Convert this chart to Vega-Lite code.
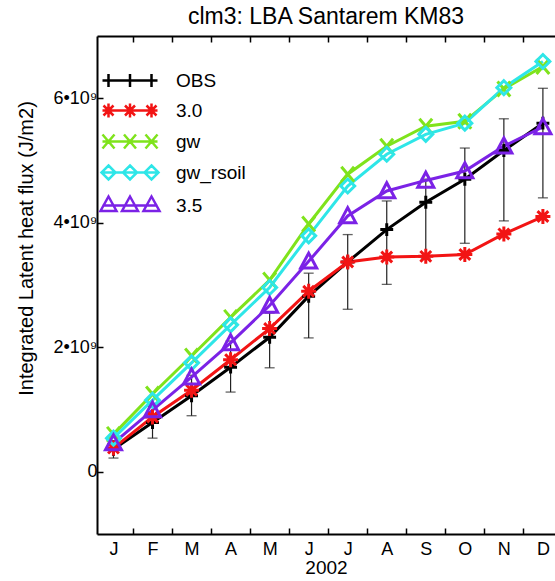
{
  "$schema": "https://vega.github.io/schema/vega-lite/v6.json",
  "width": 458,
  "height": 498,
  "autosize": {"type": "none"},
  "padding": {"left": 97, "top": 36, "right": 0, "bottom": 47},
  "background": "white",
  "config": {
    "view": {"stroke": null},
    "font": "Liberation Sans",
    "axis": {"domainColor": "#000", "domainWidth": 2, "tickColor": "#000", "tickWidth": 1.5, "labelColor": "#000", "titleColor": "#000", "grid": false, "labelFont": "Liberation Sans", "titleFont": "Liberation Sans", "titleFontWeight": "normal"},
    "point": {"filled": false, "strokeWidth": 3, "size": 225, "opacity": 1}
  },
  "title": {"text": "clm3: LBA Santarem KM83", "fontSize": 23, "fontWeight": "normal", "color": "#000", "font": "Liberation Sans", "offset": 6, "anchor": "middle"},
  "datasets": {
    "series": [
      {"month": 1, "series": "OBS", "value": 3.6e8}, {"month": 2, "series": "OBS", "value": 7.9e8}, {"month": 3, "series": "OBS", "value": 1.22e9}, {"month": 4, "series": "OBS", "value": 1.68e9}, {"month": 5, "series": "OBS", "value": 2.16e9}, {"month": 6, "series": "OBS", "value": 2.82e9}, {"month": 7, "series": "OBS", "value": 3.37e9}, {"month": 8, "series": "OBS", "value": 3.89e9}, {"month": 9, "series": "OBS", "value": 4.33e9}, {"month": 10, "series": "OBS", "value": 4.7e9}, {"month": 11, "series": "OBS", "value": 5.16e9}, {"month": 12, "series": "OBS", "value": 5.6e9},
      {"month": 1, "series": "3.0", "value": 3.8e8}, {"month": 2, "series": "3.0", "value": 8.8e8}, {"month": 3, "series": "3.0", "value": 1.31e9}, {"month": 4, "series": "3.0", "value": 1.8e9}, {"month": 5, "series": "3.0", "value": 2.3e9}, {"month": 6, "series": "3.0", "value": 2.9e9}, {"month": 7, "series": "3.0", "value": 3.37e9}, {"month": 8, "series": "3.0", "value": 3.45e9}, {"month": 9, "series": "3.0", "value": 3.46e9}, {"month": 10, "series": "3.0", "value": 3.49e9}, {"month": 11, "series": "3.0", "value": 3.82e9}, {"month": 12, "series": "3.0", "value": 4.1e9},
      {"month": 1, "series": "gw", "value": 6.0e8}, {"month": 2, "series": "gw", "value": 1.25e9}, {"month": 3, "series": "gw", "value": 1.86e9}, {"month": 4, "series": "gw", "value": 2.48e9}, {"month": 5, "series": "gw", "value": 3.08e9}, {"month": 6, "series": "gw", "value": 3.98e9}, {"month": 7, "series": "gw", "value": 4.78e9}, {"month": 8, "series": "gw", "value": 5.23e9}, {"month": 9, "series": "gw", "value": 5.55e9}, {"month": 10, "series": "gw", "value": 5.63e9}, {"month": 11, "series": "gw", "value": 6.15e9}, {"month": 12, "series": "gw", "value": 6.51e9},
      {"month": 1, "series": "gw_rsoil", "value": 5.4e8}, {"month": 2, "series": "gw_rsoil", "value": 1.15e9}, {"month": 3, "series": "gw_rsoil", "value": 1.75e9}, {"month": 4, "series": "gw_rsoil", "value": 2.36e9}, {"month": 5, "series": "gw_rsoil", "value": 2.96e9}, {"month": 6, "series": "gw_rsoil", "value": 3.79e9}, {"month": 7, "series": "gw_rsoil", "value": 4.59e9}, {"month": 8, "series": "gw_rsoil", "value": 5.1e9}, {"month": 9, "series": "gw_rsoil", "value": 5.42e9}, {"month": 10, "series": "gw_rsoil", "value": 5.6e9}, {"month": 11, "series": "gw_rsoil", "value": 6.17e9}, {"month": 12, "series": "gw_rsoil", "value": 6.59e9},
      {"month": 1, "series": "3.5", "value": 4.6e8}, {"month": 2, "series": "3.5", "value": 9.9e8}, {"month": 3, "series": "3.5", "value": 1.52e9}, {"month": 4, "series": "3.5", "value": 2.07e9}, {"month": 5, "series": "3.5", "value": 2.67e9}, {"month": 6, "series": "3.5", "value": 3.38e9}, {"month": 7, "series": "3.5", "value": 4.11e9}, {"month": 8, "series": "3.5", "value": 4.51e9}, {"month": 9, "series": "3.5", "value": 4.68e9}, {"month": 10, "series": "3.5", "value": 4.83e9}, {"month": 11, "series": "3.5", "value": 5.23e9}, {"month": 12, "series": "3.5", "value": 5.54e9}
    ],
    "err": [
      {"month": 1, "lo": 2.2e8, "hi": 5.0e8}, {"month": 2, "lo": 5.4e8, "hi": 1.05e9}, {"month": 3, "lo": 9.0e8, "hi": 1.55e9}, {"month": 4, "lo": 1.28e9, "hi": 2.1e9}, {"month": 5, "lo": 1.67e9, "hi": 2.55e9}, {"month": 6, "lo": 2.15e9, "hi": 3.19e9}, {"month": 7, "lo": 2.61e9, "hi": 3.81e9}, {"month": 8, "lo": 3.01e9, "hi": 4.35e9}, {"month": 9, "lo": 3.42e9, "hi": 4.7e9}, {"month": 10, "lo": 3.67e9, "hi": 5.2e9}, {"month": 11, "lo": 4.03e9, "hi": 5.67e9}, {"month": 12, "lo": 4.4e9, "hi": 6.16e9}
    ]
  },
  "resolve": {"axis": {"x": "independent"}},
  "layer": [
    {
      "data": {"name": "err"},
      "mark": {"type": "rule", "color": "#222", "strokeWidth": 1.2},
      "encoding": {
        "x": {"field": "month", "type": "quantitative", "scale": {"domain": [0.578, 12.31], "nice": false, "zero": false},
          "axis": {"orient": "bottom", "values": [1, 1.5, 2, 2.5, 3, 3.5, 4, 4.5, 5, 5.5, 6, 6.5, 7, 7.5, 8, 8.5, 9, 9.5, 10, 10.5, 11, 11.5, 12],
            "labelExpr": "datum.value % 1 === 0 ? ['J','F','M','A','M','J','J','A','S','O','N','D'][datum.value - 1] : ''",
            "tickSize": -6, "tickOpacity": {"condition": {"test": "datum.value % 1 !== 0", "value": 1}, "value": 0},
            "labelFontSize": 18, "labelPadding": 12, "labelOverlap": false, "labelFlush": false,
            "title": "2002", "titleFontSize": 19, "titlePadding": 0}},
        "y": {"field": "lo", "type": "quantitative", "scale": {"domain": [-1e9, 7e9], "nice": false, "zero": false},
          "axis": {"values": [0, 2e9, 4e9, 6e9], "labelExpr": "datum.value === 0 ? '0' : format(datum.value / 1e9, 'd') + '•10⁹'",
            "tickSize": -6, "labelFontSize": 18, "labelPadding": 6, "title": "Integrated Latent heat flux (J/m2)", "titleFontSize": 20, "titleX": -61, "titleY": 212}},
        "y2": {"field": "hi"}
      }
    },
    {
      "data": {"name": "err"},
      "mark": {"type": "tick", "orient": "horizontal", "color": "#222", "size": 10, "thickness": 1.3},
      "encoding": {
        "x": {"field": "month", "type": "quantitative",
          "axis": {"orient": "top", "values": [1.5, 2.5, 3.5, 4.5, 5.5, 6.5, 7.5, 8.5, 9.5, 10.5, 11.5], "labels": false, "tickSize": -6, "title": null}},
        "y": {"field": "lo", "type": "quantitative"}
      }
    },
    {
      "data": {"name": "err"},
      "mark": {"type": "tick", "orient": "horizontal", "color": "#222", "size": 10, "thickness": 1.3},
      "encoding": {
        "x": {"field": "month", "type": "quantitative", "axis": null},
        "y": {"field": "hi", "type": "quantitative"}
      }
    },
    {
      "data": {"name": "series"},
      "mark": {"type": "line", "strokeWidth": 3},
      "encoding": {
        "x": {"field": "month", "type": "quantitative", "axis": null},
        "y": {"field": "value", "type": "quantitative"},
        "color": {"field": "series", "type": "nominal",
          "scale": {"domain": ["OBS", "3.0", "gw", "gw_rsoil", "3.5"], "range": ["#000000", "#F21414", "#7FE31C", "#2EE6E8", "#7B22E6"]},
          "legend": {"orient": "none", "legendX": 23.5, "legendY": 35, "title": null, "labelFontSize": 19, "labelColor": "#000", "labelFont": "Liberation Sans", "labelOffset": 36.5, "symbolSize": 100, "symbolStrokeWidth": 2.5, "rowPadding": 6, "padding": 0,
            "encode": {"symbols": {"update": {
              "shape": {"signal": "datum.value === 'OBS' ? 'M-5.5,0L5.5,0M-4.3,-1.3L-4.3,1.3M0,-1.3L0,1.3M4.3,-1.3L4.3,1.3' : datum.value === '3.0' ? 'M-5.5,0L5.5,0M-4.3,-1.4L-4.3,1.4M-5.3,-1L-3.3,1M-5.3,1L-3.3,-1M0,-1.4L0,1.4M-1,-1L1,1M-1,1L1,-1M4.3,-1.4L4.3,1.4M3.3,-1L5.3,1M3.3,1L5.3,-1' : datum.value === 'gw' ? 'M-5.5,0L5.5,0M-5.5,-1.4L-3.1,1.4M-5.5,1.4L-3.1,-1.4M-1.2,-1.4L1.2,1.4M-1.2,1.4L1.2,-1.4M3.1,-1.4L5.5,1.4M3.1,1.4L5.5,-1.4' : datum.value === 'gw_rsoil' ? 'M-5.5,0L5.5,0M-4.3,-1.4L-2.9,0L-4.3,1.4L-5.7,0ZM0,-1.4L1.4,0L0,1.4L-1.4,0ZM4.3,-1.4L5.7,0L4.3,1.4L2.9,0Z' : 'M-5.5,0L5.5,0M-4.3,-1.8L-2.7,1.1L-5.9,1.1ZM0,-1.8L1.6,1.1L-1.6,1.1ZM4.3,-1.8L5.9,1.1L2.7,1.1Z'"},
              "fill": {"value": "transparent"},
              "strokeWidth": {"value": 2.5}
            }}}
          }}
      }
    },
    {
      "data": {"name": "series"},
      "transform": [{"filter": "datum.series === 'OBS'"}],
      "mark": {"type": "point", "color": "#000000", "shape": "M-0.86,0L0.86,0M0,-0.86L0,0.86"},
      "encoding": {"x": {"field": "month", "type": "quantitative", "axis": null}, "y": {"field": "value", "type": "quantitative"}}
    },
    {
      "data": {"name": "series"},
      "transform": [{"filter": "datum.series === '3.0'"}],
      "mark": {"type": "point", "color": "#F21414", "shape": "M-1,0L1,0M0,-1L0,1M-0.72,-0.72L0.72,0.72M-0.72,0.72L0.72,-0.72"},
      "encoding": {"x": {"field": "month", "type": "quantitative", "axis": null}, "y": {"field": "value", "type": "quantitative"}}
    },
    {
      "data": {"name": "series"},
      "transform": [{"filter": "datum.series === 'gw'"}],
      "mark": {"type": "point", "color": "#7FE31C", "shape": "M-0.85,-1L0.85,1M-0.85,1L0.85,-1"},
      "encoding": {"x": {"field": "month", "type": "quantitative", "axis": null}, "y": {"field": "value", "type": "quantitative"}}
    },
    {
      "data": {"name": "series"},
      "transform": [{"filter": "datum.series === 'gw_rsoil'"}],
      "mark": {"type": "point", "color": "#2EE6E8", "shape": "M0,-0.93L0.93,0L0,0.93L-0.93,0Z"},
      "encoding": {"x": {"field": "month", "type": "quantitative", "axis": null}, "y": {"field": "value", "type": "quantitative"}}
    },
    {
      "data": {"name": "series"},
      "transform": [{"filter": "datum.series === '3.5'"}],
      "mark": {"type": "point", "color": "#7B22E6", "shape": "M0,-1.1L1.07,0.9L-1.07,0.9Z"},
      "encoding": {"x": {"field": "month", "type": "quantitative", "axis": null}, "y": {"field": "value", "type": "quantitative"}}
    }
  ]
}
